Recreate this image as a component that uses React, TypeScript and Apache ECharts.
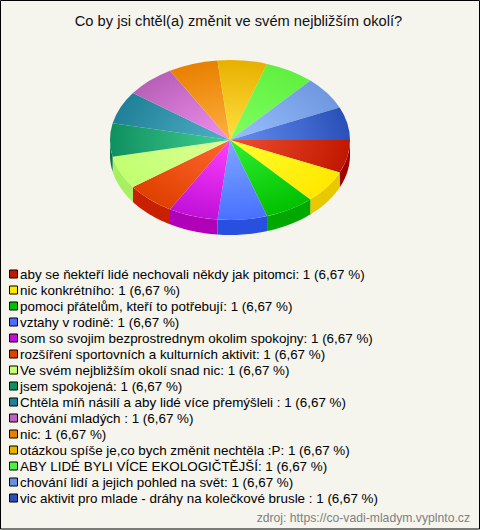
import React, { useEffect, useRef } from "react";
import * as echarts from "echarts";

const titleText = "Co by jsi chtěl(a) změnit ve svém nejbližším okolí?";
const sourceText = "zdroj: https://co-vadi-mladym.vyplnto.cz";
const labels = [
  "aby se ňekteří lidé nechovali někdy jak pitomci: 1 (6,67 %)",
  "nic konkrétního: 1 (6,67 %)",
  "pomoci přátelům, kteří to potřebují: 1 (6,67 %)",
  "vztahy v rodině: 1 (6,67 %)",
  "som so svojim bezprostrednym okolim spokojny: 1 (6,67 %)",
  "rozšíření sportovních a kulturních aktivit: 1 (6,67 %)",
  "Ve svém nejbližším okolí snad nic: 1 (6,67 %)",
  "jsem spokojená: 1 (6,67 %)",
  "Chtěla míň násilí a aby lidé více přemýšleli : 1 (6,67 %)",
  "chování mladých : 1 (6,67 %)",
  "nic: 1 (6,67 %)",
  "otázkou spíše je,co bych změnit nechtěla :P: 1 (6,67 %)",
  "ABY LIDÉ BYLI VÍCE EKOLOGIČTĚJŠÍ: 1 (6,67 %)",
  "chování lidí a jejich pohled na svět: 1 (6,67 %)",
  "vic aktivit pro mlade - dráhy na kolečkové brusle : 1 (6,67 %)",
];
const values = [1, 1, 1, 1, 1, 1, 1, 1, 1, 1, 1, 1, 1, 1, 1];
const legendColors = ["#c01800","#ffe800","#00c000","#4870ff","#c010d8","#e04000","#c8ff70","#109060","#208098","#c060c0","#e88000","#e8b000","#50f040","#6890e0","#2850b8"];
const innerColors = ["#f05030","#ffff30","#30f030","#80a8ff","#ff40ff","#ff6830","#e0ff98","#40d090","#50b0c8","#f090f0","#ffb040","#ffe040","#80ff60","#98c0ff","#6890f0"];
const outerColors = ["#c01800","#ffe800","#00c000","#4870ff","#c010d8","#e04000","#c0ff70","#109060","#208098","#b860b8","#e88000","#e8b000","#60f040","#7098e0","#2850b8"];
const wallColors = ["#a00000","#e8c800","#00a800","#2850e0","#b000b8","#c82000","#a8f060","#087048","#107060","#a04090","#c06000","#c09000","#40c030","#5070c0","#183890"];

const CX = 230, CY = 140, RX = 120, RY = 80, DEPTH = 15;
const total = values.reduce((a, b) => a + b, 0);

export default function App() {
  const ref = useRef<HTMLDivElement>(null);
  useEffect(() => {
    document.body.style.margin = "0";
    const chart = echarts.init(ref.current!, null, { renderer: "svg" });
    let acc = 0;
    const series = values.map((v, i) => {
      const start = (acc / total) * Math.PI * 2;
      acc += v;
      const end = (acc / total) * Math.PI * 2;
      return {
        type: "custom",
        name: labels[i],
        coordinateSystem: "none",
        silent: true,
        itemStyle: { color: legendColors[i] },
        data: [[v]],
        renderItem: () => {
          const children: any[] = [];
          const wEnd = Math.min(end, Math.PI);
          if (start < Math.PI) {
            const top: number[][] = [];
            const bot: number[][] = [];
            const n = 16;
            for (let k = 0; k <= n; k++) {
              const a = start + ((wEnd - start) * k) / n;
              const x = CX + RX * Math.cos(a);
              const y = CY + RY * Math.sin(a);
              top.push([x, y]);
              bot.unshift([x, y + DEPTH]);
            }
            children.push({
              type: "polygon",
              shape: { points: top.concat(bot) },
              style: { fill: wallColors[i] },
            });
          }
          children.push({
            type: "group",
            x: CX,
            y: CY,
            scaleX: 1,
            scaleY: RY / RX,
            children: [
              {
                type: "sector",
                shape: { cx: 0, cy: 0, r: RX, r0: 0, startAngle: start, endAngle: end, clockwise: true },
                style: {
                  fill: new echarts.graphic.RadialGradient(0, 0, RX, [
                    { offset: 0, color: innerColors[i] },
                    { offset: 1, color: outerColors[i] },
                  ], true),
                },
              },
            ],
          });
          return { type: "group", children };
        },
      };
    });
    chart.setOption({
      animation: false,
      backgroundColor: "#f5f4ed",
      title: {
        text: titleText,
        left: 238.5,
        textAlign: "center",
        top: 13,
        padding: 0,
        textStyle: { fontFamily: "Liberation Sans", fontSize: 14.67, fontWeight: "normal", color: "#111" },
      },
      legend: {
        orient: "vertical",
        left: 9,
        top: 267,
        itemWidth: 8,
        itemHeight: 8,
        itemGap: 2,
        padding: 0,
        icon: "rect",
        itemStyle: { borderColor: "#000", borderWidth: 1 },
        textStyle: { fontFamily: "Liberation Sans", fontSize: 13.4, color: "#000", padding: [0, 0, 0, -2.5], lineHeight: 14 },
        data: labels,
      },
      graphic: [
        { type: "rect", shape: { x: 0.5, y: 0.5, width: 479, height: 528.5 }, style: { fill: "none", stroke: "#000", lineWidth: 1 }, silent: true },
        { type: "text", x: 470, y: 512, style: { text: sourceText, fill: "#808080", font: "12.2px 'Liberation Sans'", textAlign: "right", textVerticalAlign: "top" }, silent: true },
      ],
      series,
    });
    return () => chart.dispose();
  }, []);
  return <div ref={ref} style={{ width: 480, height: 530 }} />;
}
